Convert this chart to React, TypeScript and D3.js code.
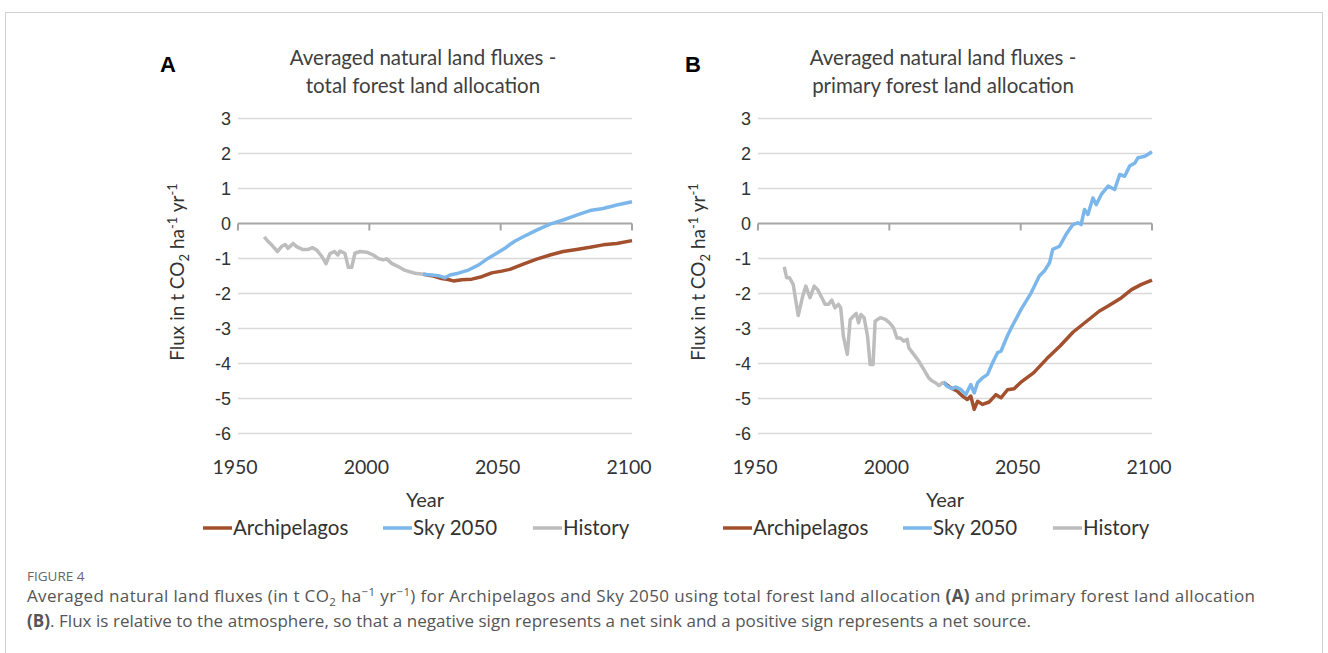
import React from "react";
import * as d3 from "d3";

type P = [number, number];

// Panel A (total forest land allocation)
const historyA: P[] = [
  [1960, -0.38], [1961.3, -0.5], [1962.8, -0.61], [1965, -0.8], [1966.6, -0.66], [1968, -0.6],
  [1969, -0.71], [1971, -0.57], [1972.3, -0.66], [1974.5, -0.74], [1976.8, -0.74], [1978.3, -0.69],
  [1980, -0.76], [1982, -0.95], [1983.5, -1.15], [1985, -0.86], [1986.7, -0.8], [1988, -0.9],
  [1988.8, -0.79], [1990.7, -0.85], [1992, -1.25], [1993.3, -1.25], [1994.5, -0.85], [1996.4, -0.8],
  [1999, -0.82], [2001.5, -0.9], [2003.4, -1.0], [2005.3, -1.04], [2006.6, -1.01], [2008.5, -1.14],
  [2011, -1.23], [2013.6, -1.34], [2017.4, -1.42], [2020.5, -1.45],
];
const skyA: P[] = [
  [2020.5, -1.45], [2023.7, -1.47], [2026.2, -1.49], [2028.8, -1.55], [2030.7, -1.47], [2033.9, -1.42],
  [2037.7, -1.33], [2041.5, -1.19], [2045.3, -0.99], [2048.5, -0.85], [2051.6, -0.71], [2053.5, -0.6],
  [2055.5, -0.5], [2058.6, -0.38], [2063.7, -0.19], [2068.8, -0.02], [2073.8, 0.1], [2078.9, 0.24],
  [2084, 0.37], [2089, 0.43], [2094.2, 0.53], [2100, 0.62],
];
const archA: P[] = [
  [2020.5, -1.45], [2023.7, -1.49], [2027.5, -1.57], [2030, -1.6], [2032, -1.64], [2035.2, -1.61],
  [2039, -1.59], [2042.8, -1.52], [2046.6, -1.41], [2050.4, -1.36], [2053.5, -1.31], [2058.6, -1.16],
  [2063.7, -1.02], [2068.8, -0.9], [2073.8, -0.8], [2078.9, -0.74], [2084, -0.68], [2089, -0.61],
  [2094.2, -0.57], [2100, -0.49],
];

// Panel B (primary forest land allocation)
const historyB: P[] = [
  [1960, -1.24], [1960.9, -1.55], [1962, -1.55], [1963.4, -1.74], [1965.3, -2.63], [1967, -2.08],
  [1968.2, -1.79], [1969.8, -2.12], [1971.4, -1.79], [1972.7, -1.89], [1974.3, -2.12], [1975.5, -2.31],
  [1976.8, -2.31], [1978.1, -2.19], [1979.3, -2.41], [1980.6, -2.31], [1981.5, -2.41], [1982.5, -3.22],
  [1984, -3.74], [1985.1, -2.74], [1986.3, -2.65], [1987.4, -2.57], [1988.3, -2.84], [1989.2, -2.6],
  [1990.4, -2.69], [1991.7, -3.22], [1992.7, -4.03], [1993.8, -4.03], [1994.6, -2.79], [1996.6, -2.69],
  [1998.5, -2.74], [2000.1, -2.84], [2001.6, -2.98], [2002.9, -3.27], [2004.2, -3.27], [2005.5, -3.36],
  [2006.8, -3.31], [2007.4, -3.55], [2009.3, -3.74], [2011.2, -3.93], [2013.1, -4.17], [2015, -4.41],
  [2016.3, -4.5], [2017.6, -4.55], [2018.9, -4.63], [2020.5, -4.53],
];
const skyB: P[] = [
  [2020.5, -4.53], [2022, -4.65], [2024, -4.72], [2025.2, -4.67], [2027.2, -4.74], [2029.1, -4.89],
  [2031, -4.6], [2032.3, -4.84], [2033.6, -4.55], [2035.5, -4.41], [2037.4, -4.31], [2039.3, -3.98],
  [2041.2, -3.69], [2042.5, -3.65], [2045, -3.2], [2047, -2.9], [2050.1, -2.46], [2054, -1.98],
  [2057.1, -1.5], [2059, -1.36], [2061, -1.12], [2062.2, -0.74], [2064.8, -0.65], [2067.3, -0.31],
  [2069.9, -0.03], [2071.8, 0.02], [2073, -0.03], [2074.3, 0.4], [2075.6, 0.26], [2077.5, 0.73],
  [2078.8, 0.54], [2080.7, 0.83], [2083.3, 1.07], [2085.8, 0.97], [2087.7, 1.4], [2089.6, 1.35],
  [2091.5, 1.64], [2093.5, 1.73], [2094.7, 1.88], [2097.3, 1.92], [2100, 2.05],
];
const archB: P[] = [
  [2020.5, -4.53], [2023.3, -4.69], [2025.9, -4.79], [2027.8, -4.93], [2029.7, -5.03], [2031, -4.93],
  [2032.3, -5.31], [2033.6, -5.08], [2035.5, -5.17], [2038, -5.1], [2040.6, -4.89], [2042.5, -4.98],
  [2045, -4.75], [2047.5, -4.72], [2050, -4.54], [2055, -4.26], [2060, -3.86], [2065, -3.5],
  [2070, -3.1], [2075, -2.8], [2080, -2.5], [2083.3, -2.36], [2088.4, -2.12], [2092.2, -1.89],
  [2096, -1.74], [2100, -1.62],
];

const xTicks = [1950, 2000, 2050, 2100];
const yTicks = [3, 2, 1, 0, -1, -2, -3, -4, -5, -6];
const seriesNames = ["Archipelagos", "Sky 2050", "History"];
const seriesColors = ["#A3502E", "#7CB7EC", "#BDBDBD"];

const titlesA = ["Averaged natural land fluxes -", "total forest land allocation"];
const titlesB = ["Averaged natural land fluxes -", "primary forest land allocation"];

const FONT = "Lato, 'Open Sans', sans-serif";

function Panel(props: {
  letter: string;
  letterX: number;
  titles: string[];
  x0: number;
  x1: number;
  history: P[];
  sky: P[];
  arch: P[];
  yTitleX: number;
  legendX: number;
}) {
  const { letter, letterX, titles, x0, x1, history, sky, arch, yTitleX, legendX } = props;
  const x = d3.scaleLinear().domain([1950, 2100]).range([x0, x1]);
  const y = d3.scaleLinear().domain([3, -6]).range([118.5, 433.5]);
  const line = d3
    .line<P>()
    .x((d) => x(d[0]))
    .y((d) => y(d[1]))
    .curve(d3.curveLinear);
  const cx = (x0 + x1) / 2;
  const legendOffsets = [0, 180, 330];
  return (
    <g>
      <text x={letterX} y={72} fontFamily="'Liberation Sans', Arial, sans-serif" fontWeight="bold" fontSize={22} fill="#000">
        {letter}
      </text>
      {titles.map((t, i) => (
        <text key={i} x={cx - 12} y={65 + i * 28} textAnchor="middle" fontFamily={FONT} fontSize={20.5} fill="#404040">
          {t}
        </text>
      ))}
      {yTicks.map((v) =>
        v === 0 ? null : (
          <line key={v} x1={x0} x2={x1} y1={y(v)} y2={y(v)} stroke="#d9d9d9" strokeWidth={1.5} />
        )
      )}
      <line x1={x0} x2={x1} y1={y(0)} y2={y(0)} stroke="#a6a6a6" strokeWidth={2} />
      {xTicks.map((t) => (
        <line key={t} x1={x(t)} x2={x(t)} y1={y(0)} y2={y(0) + 7} stroke="#a6a6a6" strokeWidth={2} />
      ))}
      {yTicks.map((v) => (
        <text key={v} x={x0 - 7} y={y(v) + 6} textAnchor="end" fontFamily="'Liberation Sans', Arial, sans-serif" fontSize={18} fill="#333">
          {v}
        </text>
      ))}
      {xTicks.map((t) => (
        <text key={t} x={x(t) - 3} y={474} textAnchor="middle" fontFamily={FONT} fontSize={19.5} fill="#333">
          {t}
        </text>
      ))}
      <text x={cx - 10} y={507} textAnchor="middle" fontFamily={FONT} fontSize={20} fill="#333">
        Year
      </text>
      <text
        transform={`translate(${yTitleX},${272}) rotate(-90)`}
        textAnchor="middle"
        fontFamily={FONT}
        fontSize={19}
        fill="#333"
      >
        Flux in t CO<tspan fontSize={13} dy={5}>2</tspan>
        <tspan dy={-5}> ha</tspan>
        <tspan fontSize={13} dy={-7}>-1</tspan>
        <tspan dy={7}> yr</tspan>
        <tspan fontSize={13} dy={-7}>-1</tspan>
      </text>
      <path d={line(arch) || ""} fill="none" stroke={seriesColors[0]} strokeWidth={3.5} strokeLinejoin="round" />
      <path d={line(sky) || ""} fill="none" stroke={seriesColors[1]} strokeWidth={3.5} strokeLinejoin="round" />
      <path d={line(history) || ""} fill="none" stroke={seriesColors[2]} strokeWidth={3.5} strokeLinejoin="round" />
      {seriesNames.map((n, i) => (
        <g key={n} transform={`translate(${legendX + legendOffsets[i]},528)`}>
          <line x1={0} x2={29} y1={0} y2={0} stroke={seriesColors[i]} strokeWidth={3.5} />
          <text x={30} y={7} fontFamily={FONT} fontSize={20.5} fill="#333">
            {n}
          </text>
        </g>
      ))}
    </g>
  );
}

export default function App() {
  return (
    <svg width={1328} height={653} style={{ position: "absolute", left: 0, top: 0, background: "#fff" }}>
      <rect x={0} y={0} width={1328} height={653} fill="#fff" />
      <line x1={5} x2={1323} y1={12.5} y2={12.5} stroke="#d0d0d0" strokeWidth={1} />
      <line x1={5.5} x2={5.5} y1={12} y2={653} stroke="#d0d0d0" strokeWidth={1} />
      <line x1={1322.5} x2={1322.5} y1={12} y2={653} stroke="#d0d0d0" strokeWidth={1} />
      <Panel
        letter="A"
        letterX={160}
        titles={titlesA}
        x0={238}
        x1={632}
        history={historyA}
        sky={skyA}
        arch={archA}
        yTitleX={184}
        legendX={203}
      />
      <Panel
        letter="B"
        letterX={685}
        titles={titlesB}
        x0={758}
        x1={1152}
        history={historyB}
        sky={skyB}
        arch={archB}
        yTitleX={705}
        legendX={723}
      />
      <text x={27} y={581} fontFamily="'Open Sans', sans-serif" fontSize={13.5} fill="#666">
        FIGURE 4
      </text>
      <text x={27} y={602} fontFamily="'Open Sans', sans-serif" fontSize={17} fill="#555" textLength={1228} lengthAdjust="spacing">
        Averaged natural land fluxes (in t CO<tspan fontSize={11.5} dy={4}>2</tspan>
        <tspan dy={-4}> ha</tspan>
        <tspan fontSize={11.5} dy={-6}>−1</tspan>
        <tspan dy={6}> yr</tspan>
        <tspan fontSize={11.5} dy={-6}>−1</tspan>
        <tspan dy={6}>) for Archipelagos and Sky 2050 using total forest land allocation </tspan>
        <tspan fontWeight="bold">(A)</tspan>
        <tspan> and primary forest land allocation</tspan>
      </text>
      <text x={27} y={627} fontFamily="'Open Sans', sans-serif" fontSize={17} fill="#555" textLength={1004} lengthAdjust="spacing">
        <tspan fontWeight="bold">(B)</tspan>
        <tspan>. Flux is relative to the atmosphere, so that a negative sign represents a net sink and a positive sign represents a net source.</tspan>
      </text>
    </svg>
  );
}
